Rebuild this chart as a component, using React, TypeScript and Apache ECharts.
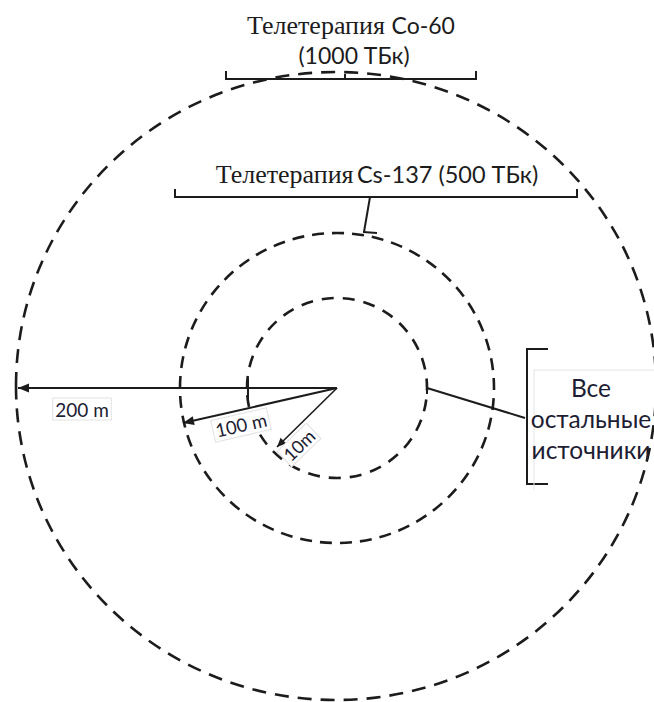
import React, { useEffect, useRef } from "react";
import * as echarts from "echarts";

// Labels of the diagram
const sourceNames = ["Телетерапия", "Телетерапия", "Все остальные источники"];
const isotopes = ["Co-60", "Cs-137"];
const activities = ["(1000 ТБк)", "(500 ТБк)"];
const otherLines = ["Все", "остальные", "источники"];
const distanceLabels = ["200 m", "100 m", "10m"];

const INK = "#1c1c1c";
const SERIF = "'Liberation Serif', 'DejaVu Serif', serif";
const SANS = "Lato, 'Open Sans', sans-serif";

function head(x1: number, y1: number, x2: number, y2: number, len: number, w: number) {
  const a = Math.atan2(y2 - y1, x2 - x1);
  const bx = x2 - Math.cos(a) * len;
  const by = y2 - Math.sin(a) * len;
  const px = -Math.sin(a) * w;
  const py = Math.cos(a) * w;
  return [
    [x2, y2],
    [bx + px, by + py],
    [bx - px, by - py],
  ];
}

function ln(x1: number, y1: number, x2: number, y2: number, lw = 2) {
  return {
    type: "line",
    shape: { x1, y1, x2, y2 },
    style: { stroke: INK, lineWidth: lw },
  };
}

function ring(cx: number, cy: number, rx: number, ry: number, dash: number[]) {
  return {
    type: "ellipse",
    shape: { cx, cy, rx, ry },
    style: { fill: "none", stroke: INK, lineWidth: 2.6, lineDash: dash },
  };
}

function arrow(x1: number, y1: number, x2: number, y2: number, lw: number, hl: number, hw: number) {
  return [
    ln(x1, y1, x2, y2, lw),
    {
      type: "polygon",
      shape: { points: head(x1, y1, x2, y2, hl, hw) },
      style: { fill: INK },
    },
  ];
}

function boxedLabel(text: string, x: number, y: number, rot: number, fs: number) {
  return {
    type: "text",
    x,
    y,
    rotation: rot,
    style: {
      text,
      fontFamily: SANS,
      fontSize: fs,
      fill: "#1d1d33",
      align: "center",
      verticalAlign: "middle",
      backgroundColor: "#fff",
      borderColor: "#e2e2e2",
      borderWidth: 1,
      padding: [1, 2],
    },
  };
}

export default function App() {
  const ref = useRef<HTMLDivElement>(null);
  useEffect(() => {
    if (!ref.current) return;
    const chart = echarts.init(ref.current, null, { renderer: "svg" });
    const cx = 337;
    const cy = 388;
    const elements: any[] = [
      ring(336, 386, 320, 314, [14, 9]),
      ring(cx, cy, 157, 155, [12, 8]),
      ring(cx, cy, 90, 90, [12, 9]),
      // arrows
      ...arrow(cx, cy, 18, cy, 2, 11, 4.5),
      ...arrow(cx, cy, 183, 423, 2, 11, 4.5),
      ...arrow(cx, cy, 277, 447, 1.6, 9, 4),
      ln(248, 379, 248, 404, 2),
      // Co-60 bracket
      ln(226, 79, 476, 79, 2),
      ln(226, 71, 226, 80, 2),
      ln(476, 71, 476, 80, 2),
      ln(345, 74, 345, 80, 2),
      // Cs-137 bracket
      ln(175, 197, 577, 197, 2),
      ln(175, 189, 175, 198, 2),
      ln(577, 189, 577, 198, 2),
      ln(370, 197, 364, 232, 2),
      ln(363, 232, 377, 233, 2),
      // other sources bracket
      ln(527, 348, 527, 485, 2),
      ln(526, 349, 548, 349, 2),
      ln(526, 484, 548, 484, 2),
      ln(427, 388, 525, 418, 2),
      ln(427, 382, 427, 394, 2),
      // faint box of right label
      {
        type: "polyline",
        shape: { points: [[534, 490], [534, 370], [654, 370]] },
        style: { stroke: "#e4e4e4", lineWidth: 1, fill: "none" },
      },
      // titles
      {
        type: "text",
        x: 351,
        y: 25,
        style: {
          text: `{s|${sourceNames[0]}}  {c|${isotopes[0]}}`,
          align: "center",
          verticalAlign: "middle",
          rich: {
            s: { fontFamily: SERIF, fontSize: 26, fill: INK },
            c: { fontFamily: SANS, fontSize: 23, fill: INK },
          },
        },
      },
      {
        type: "text",
        x: 354,
        y: 55,
        style: {
          text: activities[0],
          fontFamily: SANS,
          fontSize: 23,
          fill: INK,
          align: "center",
          verticalAlign: "middle",
        },
      },
      {
        type: "text",
        x: 377,
        y: 174,
        style: {
          text: `{s|${sourceNames[1]}} {c|${isotopes[1]} ${activities[1]}}`,
          align: "center",
          verticalAlign: "middle",
          rich: {
            s: { fontFamily: SERIF, fontSize: 26, fill: INK },
            c: { fontFamily: SANS, fontSize: 23.5, fill: INK },
          },
        },
      },
      ...otherLines.map((t, i) => ({
        type: "text",
        x: 591,
        y: 387 + i * 31,
        style: {
          text: t,
          fontFamily: SANS,
          fontSize: 24.5,
          fill: "#1d1d33",
          align: "center",
          verticalAlign: "middle",
        },
      })),
      boxedLabel(distanceLabels[0], 82, 409, 0, 19),
      boxedLabel(distanceLabels[1], 241, 425, (12.8 * Math.PI) / 180, 18.5),
      boxedLabel(distanceLabels[2], 299, 445, (44 * Math.PI) / 180, 18),
    ];
    chart.setOption({
      animation: false,
      backgroundColor: "#ffffff",
      graphic: { elements },
    });
    return () => chart.dispose();
  }, []);
  return (
    <div
      ref={ref}
      style={{ position: "fixed", left: 0, top: 0, width: 654, height: 702, background: "#fff" }}
    />
  );
}
